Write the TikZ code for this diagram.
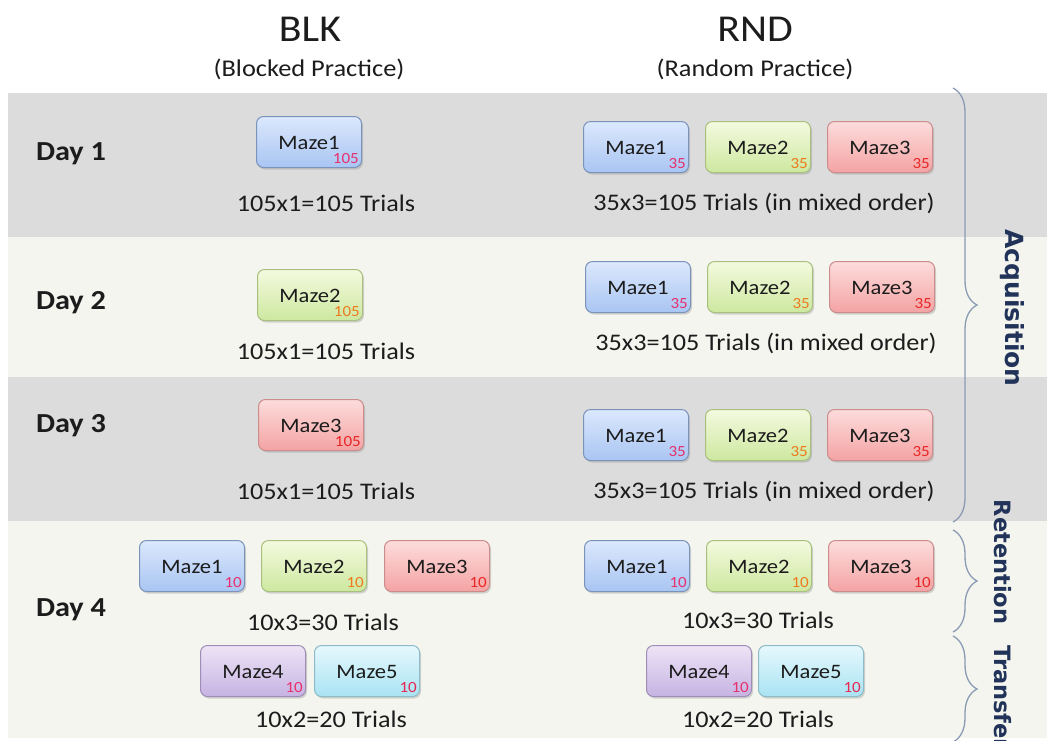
\documentclass[tikz,border=0pt]{standalone}
\usepackage{fontspec}
\setmainfont[FakeStretch=1.1]{Carlito}
\newfontfamily\sidefont{DejaVu Sans}
\usetikzlibrary{shadows,decorations.pathreplacing}
\definecolor{gband}{HTML}{DCDCDC}
\definecolor{lband}{HTML}{F3F5EE}
\definecolor{navy}{HTML}{22335A}
\definecolor{bracecol}{HTML}{8C9BB5}
\definecolor{txt}{HTML}{1C1C1C}
\definecolor{bluetop}{HTML}{DCE8FD}\definecolor{bluebot}{HTML}{A8C5F2}\definecolor{blueline}{HTML}{7B93BA}\definecolor{bluenum}{HTML}{E8306E}
\definecolor{greentop}{HTML}{F4FADF}\definecolor{greenbot}{HTML}{CDE8A0}\definecolor{greenline}{HTML}{A9BF7E}\definecolor{greennum}{HTML}{EE7A1E}
\definecolor{redtop}{HTML}{FDDCDC}\definecolor{redbot}{HTML}{F4A3A3}\definecolor{redline}{HTML}{CB8C8C}\definecolor{rednum}{HTML}{E82626}
\definecolor{purpletop}{HTML}{EDE4F6}\definecolor{purplebot}{HTML}{C6B3E2}\definecolor{purpleline}{HTML}{9F8DB8}\definecolor{purplenum}{HTML}{E8306E}
\definecolor{cyantop}{HTML}{E6F8FD}\definecolor{cyanbot}{HTML}{A9E3F3}\definecolor{cyanline}{HTML}{8DBBC8}\definecolor{cyannum}{HTML}{E82652}
\tikzset{
  mazebox/.style={rounded corners=7pt, minimum width=105pt, minimum height=51pt, line width=1pt, inner sep=0pt,
    drop shadow={shadow xshift=1.5pt, shadow yshift=-2pt, opacity=0.3}},
  bluebox/.style={top color=bluetop, bottom color=bluebot, draw=blueline},
  greenbox/.style={top color=greentop, bottom color=greenbot, draw=greenline},
  redbox/.style={top color=redtop, bottom color=redbot, draw=redline},
  purplebox/.style={top color=purpletop, bottom color=purplebot, draw=purpleline},
  cyanbox/.style={top color=cyantop, bottom color=cyanbot, draw=cyanline},
  mazetxt/.style={anchor=base, inner sep=0pt, text=txt, font=\fontsize{20.5}{22}\selectfont},
  numtxt/.style={anchor=base east, inner sep=0pt, font=\fontsize{15.5}{16}\selectfont},
  daytxt/.style={anchor=base, inner sep=0pt, text=txt, font=\fontsize{27.5}{30}\selectfont\bfseries},
  trialtxt/.style={anchor=base, inner sep=0pt, text=txt, font=\fontsize{23.8}{26}\selectfont},
  headtxt/.style={anchor=base, inner sep=0pt, text=txt, font=\fontsize{38}{40}\selectfont},
  subtxt/.style={anchor=base, inner sep=0pt, text=txt, font=\fontsize{24}{26}\selectfont},
  bracestyle/.style={draw=bracecol, line width=1.3pt, decorate, decoration={brace, amplitude=24pt}},
  sidetxt/.style={rotate=-90, inner sep=0pt, text=navy},
}
\newcommand\mz[6]{%
  \node[mazebox,#4box] (#1) at (#2,#3) {};
  \node[mazetxt] (#1t) at ([yshift=-7.5pt]#1.center) {#5};
  \node[numtxt,text=#4num] (#1n) at ([xshift=-3pt,yshift=5pt]#1.south east) {#6};
}
\begin{document}
\begin{tikzpicture}[x=1pt,y=-1pt]
\useasboundingbox (0,0) rectangle (1047,740);
\clip (0,0) rectangle (1047,740);
\fill[white] (0,0) rectangle (1047,740);
% bands
\fill[gband] (8,93) rectangle (1047,237);
\fill[lband] (8,237) rectangle (1047,377);
\fill[gband] (8,377) rectangle (1047,521);
\fill[lband] (8,521) rectangle (1047,738);
% headers
\node[headtxt] (blk) at (310,41) {BLK};
\node[subtxt] (blksub) at (309,76) {(Blocked Practice)};
\node[headtxt] (rnd) at (755,41) {RND};
\node[subtxt] (rndsub) at (755,76) {(Random Practice)};
% day labels
\node[daytxt] (d1) at (71,160) {Day 1};
\node[daytxt] (d2) at (71,309) {Day 2};
\node[daytxt] (d3) at (71,432) {Day 3};
\node[daytxt] (d4) at (71,616) {Day 4};
% Day 1
\mz{a1}{309}{142}{blue}{Maze1}{105}
\node[trialtxt] (ta1) at (326,211) {105x1=105 Trials};
\mz{b11}{636}{147}{blue}{Maze1}{35}
\mz{b12}{758}{147}{green}{Maze2}{35}
\mz{b13}{880}{147}{red}{Maze3}{35}
\node[trialtxt] (tb1) at (764,210) {35x3=105 Trials (in mixed order)};
% Day 2
\mz{a2}{310}{295}{green}{Maze2}{105}
\node[trialtxt] (ta2) at (326,359) {105x1=105 Trials};
\mz{b21}{638}{287}{blue}{Maze1}{35}
\mz{b22}{760}{287}{green}{Maze2}{35}
\mz{b23}{882}{287}{red}{Maze3}{35}
\node[trialtxt] (tb2) at (766,350) {35x3=105 Trials (in mixed order)};
% Day 3
\mz{a3}{311}{425}{red}{Maze3}{105}
\node[trialtxt] (ta3) at (326,499) {105x1=105 Trials};
\mz{b31}{636}{435}{blue}{Maze1}{35}
\mz{b32}{758}{435}{green}{Maze2}{35}
\mz{b33}{880}{435}{red}{Maze3}{35}
\node[trialtxt] (tb3) at (764,498) {35x3=105 Trials (in mixed order)};
% Day 4 BLK
\mz{a41}{192}{566}{blue}{Maze1}{10}
\mz{a42}{314}{566}{green}{Maze2}{10}
\mz{a43}{437}{566}{red}{Maze3}{10}
\node[trialtxt] (ta4) at (323,630) {10x3=30 Trials};
\mz{a44}{253}{671}{purple}{Maze4}{10}
\mz{a45}{367}{671}{cyan}{Maze5}{10}
\node[trialtxt] (ta5) at (331,727) {10x2=20 Trials};
% Day 4 RND
\mz{b41}{637}{566}{blue}{Maze1}{10}
\mz{b42}{759}{566}{green}{Maze2}{10}
\mz{b43}{881}{566}{red}{Maze3}{10}
\node[trialtxt] (tb4) at (758,628) {10x3=30 Trials};
\mz{b44}{699}{671}{purple}{Maze4}{10}
\mz{b45}{811}{671}{cyan}{Maze5}{10}
\node[trialtxt] (tb5) at (758,727) {10x2=20 Trials};
% braces
\coordinate (acqT) at (953,88);
\coordinate (acqB) at (953,522);
\coordinate (retT) at (953,530);
\coordinate (retB) at (953,632);
\coordinate (trT) at (953,636);
\coordinate (trB) at (953,742);
\draw[bracestyle] (acqT) -- (acqB);
\draw[bracestyle] (retT) -- (retB);
\draw[bracestyle] (trT) -- (trB);
\node[sidetxt, font=\sidefont\bfseries\fontsize{25}{27}\selectfont] (acq) at (1012,308) {Acquisition};
\node[sidetxt, font=\sidefont\bfseries\fontsize{22.5}{25}\selectfont] (ret) at (1003,562) {Retention};
\node[sidetxt, font=\sidefont\bfseries\fontsize{22.5}{25}\selectfont, anchor=west] (tra) at (1003,645) {Transfer};
\end{tikzpicture}
\end{document}
